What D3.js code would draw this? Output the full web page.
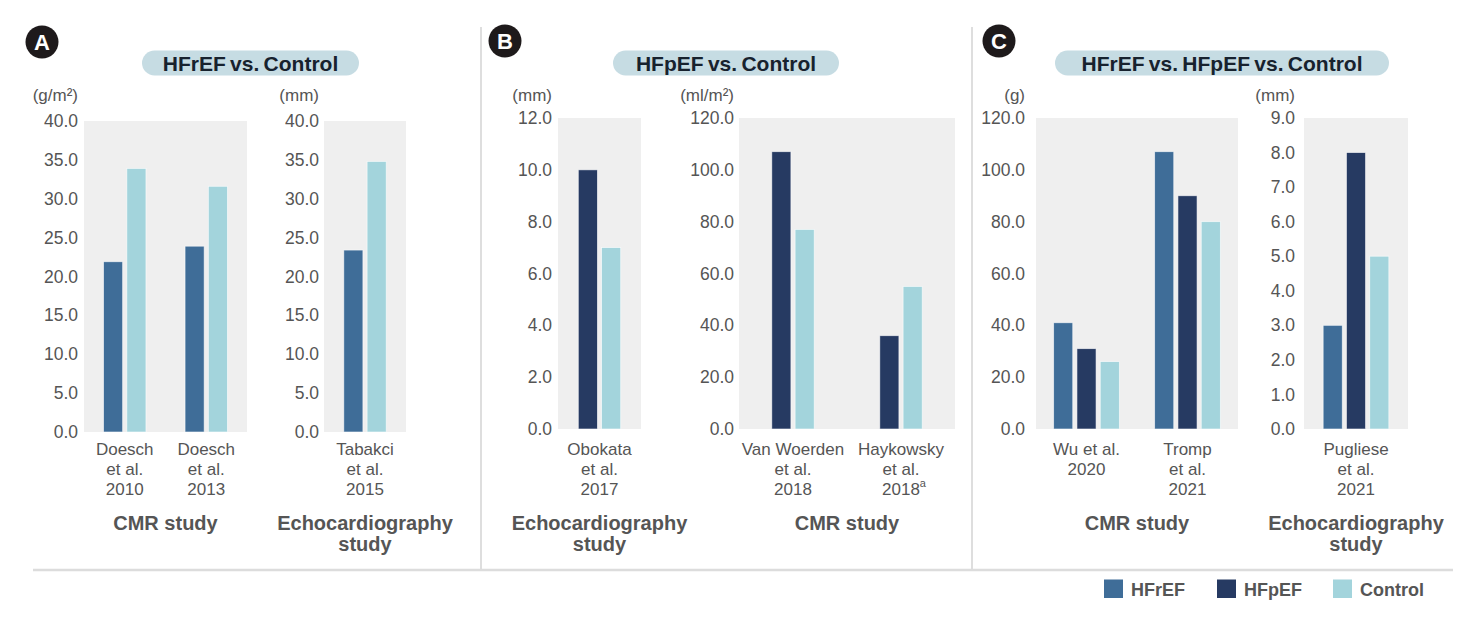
<!DOCTYPE html>
<html>
<head>
<meta charset="utf-8">
<script src="https://cdn.jsdelivr.net/npm/d3@7"></script>
<style>
    body { margin: 0; background: #fff; }
    svg { display: block; font-family: 'Liberation Sans', Arial, sans-serif; }
</style>
</head>
<body>
<div id="chart"></div>
<script>
// series
const seriesNames = ['HFrEF', 'HFpEF', 'Control'];
const seriesColors = ['#3f6d98', '#263a62', '#a3d4dc'];

// A: HFrEF vs. Control
const aCmrStudies = [['Doesch', 'et al.', '2010'], ['Doesch', 'et al.', '2013']];
const aCmrHFrEF = [21.9, 23.9];
const aCmrControl = [33.9, 31.6];
const aEchoStudies = [['Tabakci', 'et al.', '2015']];
const aEchoHFrEF = [23.4];
const aEchoControl = [34.8];

// B: HFpEF vs. Control
const bEchoStudies = [['Obokata', 'et al.', '2017']];
const bEchoHFpEF = [10.0];
const bEchoControl = [7.0];
const bCmrStudies = [['Van Woerden', 'et al.', '2018'], ['Haykowsky', 'et al.', '2018^a']];
const bCmrHFpEF = [107, 36];
const bCmrControl = [77, 55];

// C: HFrEF vs. HFpEF vs. Control
const cCmrStudies = [['Wu et al.', '2020'], ['Tromp', 'et al.', '2021']];
const cCmrHFrEF = [41, 107];
const cCmrHFpEF = [31, 90];
const cCmrControl = [26, 80];
const cEchoStudies = [['Pugliese', 'et al.', '2021']];
const cEchoHFrEF = [3.0];
const cEchoHFpEF = [8.0];
const cEchoControl = [5.0];

// tick labels
const ticks40 = [0, 5, 10, 15, 20, 25, 30, 35, 40];
const ticks12 = [0, 2, 4, 6, 8, 10, 12];
const ticks120 = [0, 20, 40, 60, 80, 100, 120];
const ticks9 = [0, 1, 2, 3, 4, 5, 6, 7, 8, 9];

const panelTitles = ['HFrEF vs. Control', 'HFpEF vs. Control', 'HFrEF vs. HFpEF vs. Control'];
const panelLetters = ['A', 'B', 'C'];

// 图表的宽度和高度
const width = 1483;
const height = 627;
const textColor = '#555555';

const charts = [
    { x0: 84, x1: 247, top: 121, bottom: 432, labelX: 78, unit: '(g/m²)', ticks: ticks40,
        studies: aCmrStudies, values: [aCmrHFrEF, null, aCmrControl], section: ['CMR study'] },
    { x0: 324, x1: 406, top: 121, bottom: 432, labelX: 319, unit: '(mm)', ticks: ticks40,
        studies: aEchoStudies, values: [aEchoHFrEF, null, aEchoControl], section: ['Echocardiography', 'study'] },
    { x0: 558, x1: 641, top: 118, bottom: 429, labelX: 552, unit: '(mm)', ticks: ticks12,
        studies: bEchoStudies, values: [null, bEchoHFpEF, bEchoControl], section: ['Echocardiography', 'study'] },
    { x0: 739, x1: 955, top: 118, bottom: 429, labelX: 734, unit: '(ml/m²)', ticks: ticks120,
        studies: bCmrStudies, values: [null, bCmrHFpEF, bCmrControl], section: ['CMR study'] },
    { x0: 1036, x1: 1238, top: 118, bottom: 429, labelX: 1025, unit: '(g)', ticks: ticks120,
        studies: cCmrStudies, values: [cCmrHFrEF, cCmrHFpEF, cCmrControl], section: ['CMR study'] },
    { x0: 1304, x1: 1408, top: 118, bottom: 429, labelX: 1295, unit: '(mm)', ticks: ticks9,
        studies: cEchoStudies, values: [cEchoHFrEF, cEchoHFpEF, cEchoControl], section: ['Echocardiography', 'study'] }
];

const panels = [
    { cx: 42, cy: 42, pillX: 142, pillW: 217 },
    { cx: 505, cy: 41, pillX: 613, pillW: 226 },
    { cx: 999, cy: 41, pillX: 1055, pillW: 334 }
];

const svg = d3.select('#chart')
    .append('svg')
    .attr('width', width)
    .attr('height', height);

// 分隔线
svg.append('g')
    .selectAll('line')
    .data([481, 972])
    .enter()
    .append('line')
    .attr('x1', function(d) { return d; })
    .attr('x2', function(d) { return d; })
    .attr('y1', 27)
    .attr('y2', 570)
    .attr('stroke', '#dedede')
    .attr('stroke-width', 2);

svg.append('line')
    .attr('x1', 33)
    .attr('x2', 1453)
    .attr('y1', 570)
    .attr('y2', 570)
    .attr('stroke', '#dcdcdc')
    .attr('stroke-width', 2.5);

// panel letters and titles
panels.forEach(function(p, i) {
    const g = svg.append('g');
    g.append('circle')
        .attr('cx', p.cx)
        .attr('cy', p.cy)
        .attr('r', 16.5)
        .attr('fill', '#1e1a1b');
    g.append('text')
        .attr('x', p.cx)
        .attr('y', p.cy + 8)
        .attr('text-anchor', 'middle')
        .attr('font-size', 22)
        .attr('font-weight', 'bold')
        .attr('fill', '#fff')
        .text(panelLetters[i]);
    g.append('rect')
        .attr('x', p.pillX)
        .attr('y', 50.5)
        .attr('width', p.pillW)
        .attr('height', 25)
        .attr('rx', 12.5)
        .attr('fill', '#c6dce3');
    g.append('text')
        .attr('x', p.pillX + p.pillW / 2)
        .attr('y', 70.5)
        .attr('text-anchor', 'middle')
        .attr('font-size', 21)
        .attr('font-weight', 'bold')
        .attr('word-spacing', -1.5)
        .attr('fill', '#17222e')
        .text(panelTitles[i]);
});

function drawChart(c) {
    const g = svg.append('g');
    const max = d3.max(c.ticks);

    g.append('rect')
        .attr('x', c.x0)
        .attr('y', c.top)
        .attr('width', c.x1 - c.x0)
        .attr('height', c.bottom - c.top)
        .attr('fill', '#efefef');

    const yScale = d3.scaleLinear()
        .domain([0, max])
        .range([c.bottom, c.top]);

    const yAxis = d3.axisLeft()
        .scale(yScale)
        .tickValues(c.ticks)
        .tickSize(0)
        .tickPadding(0)
        .tickFormat(d3.format('.1f'));

    const axisG = g.append('g')
        .attr('transform', 'translate(' + c.labelX + ',0)')
        .call(yAxis);
    axisG.select('.domain').remove();
    axisG.selectAll('text')
        .attr('font-size', 17.5)
        .attr('font-family', null)
        .attr('fill', textColor);

    g.append('text')
        .attr('x', c.labelX)
        .attr('y', 101)
        .attr('text-anchor', 'end')
        .attr('font-size', 17)
        .attr('fill', textColor)
        .text(c.unit);

    const xScale = d3.scaleBand()
        .domain(d3.range(c.studies.length))
        .range([c.x0, c.x1]);

    const present = seriesNames.filter(function(s, k) { return c.values[k]; });
    const step = 23.3;
    const inner = d3.scaleBand()
        .domain(present)
        .range([-present.length * step / 2, present.length * step / 2])
        .paddingInner(0.18)
        .paddingOuter(0.09);

    const bars = [];
    c.studies.forEach(function(s, i) {
        seriesNames.forEach(function(name, k) {
            if (c.values[k]) {
                bars.push({ study: i, name: name, color: seriesColors[k], value: c.values[k][i] });
            }
        });
    });

    g.append('g')
        .selectAll('rect')
        .data(bars)
        .enter()
        .append('rect')
        .attr('x', function(d) {
            return xScale(d.study) + xScale.bandwidth() / 2 + inner(d.name);
        })
        .attr('y', function(d) { return yScale(d.value); })
        .attr('width', inner.bandwidth())
        .attr('height', function(d) { return yScale(0) - yScale(d.value); })
        .attr('fill', function(d) { return d.color; })
        .attr('stroke', 'rgba(255,255,255,0.7)')
        .attr('stroke-width', 0.8);

    // study labels
    const labels = g.append('g')
        .selectAll('text')
        .data(c.studies)
        .enter()
        .append('text')
        .attr('text-anchor', 'middle')
        .attr('font-size', 17)
        .attr('fill', textColor);

    labels.each(function(lines, i) {
        const t = d3.select(this);
        const cx = xScale(i) + xScale.bandwidth() / 2;
        lines.forEach(function(line, j) {
            const parts = line.split('^');
            t.append('tspan')
                .attr('x', cx + (parts[1] ? 3 : 0))
                .attr('y', 455 + j * 20)
                .text(parts[0]);
            if (parts[1]) {
                t.append('tspan')
                    .attr('font-size', 11)
                    .attr('dy', -8)
                    .text(parts[1]);
            }
        });
    });

    // study type
    const sec = g.append('text')
        .attr('text-anchor', 'middle')
        .attr('font-size', 20)
        .attr('font-weight', 'bold')
        .attr('fill', textColor);
    c.section.forEach(function(line, j) {
        sec.append('tspan')
            .attr('x', (c.x0 + c.x1) / 2)
            .attr('y', 530 + j * 21)
            .text(line);
    });
}

charts.forEach(drawChart);

// legend
const legendX = [1104, 1217, 1333];
const legend = svg.append('g')
    .selectAll('g')
    .data(seriesNames)
    .enter()
    .append('g')
    .attr('transform', function(d, i) {
        return 'translate(' + legendX[i] + ',579.5)';
    });

legend.append('rect')
    .attr('width', 19)
    .attr('height', 18.5)
    .attr('fill', function(d, i) { return seriesColors[i]; });

legend.append('text')
    .attr('x', 27)
    .attr('y', 16)
    .attr('font-size', 18)
    .attr('font-weight', 'bold')
    .attr('fill', textColor)
    .text(function(d) { return d; });
</script>
</body>
</html>
